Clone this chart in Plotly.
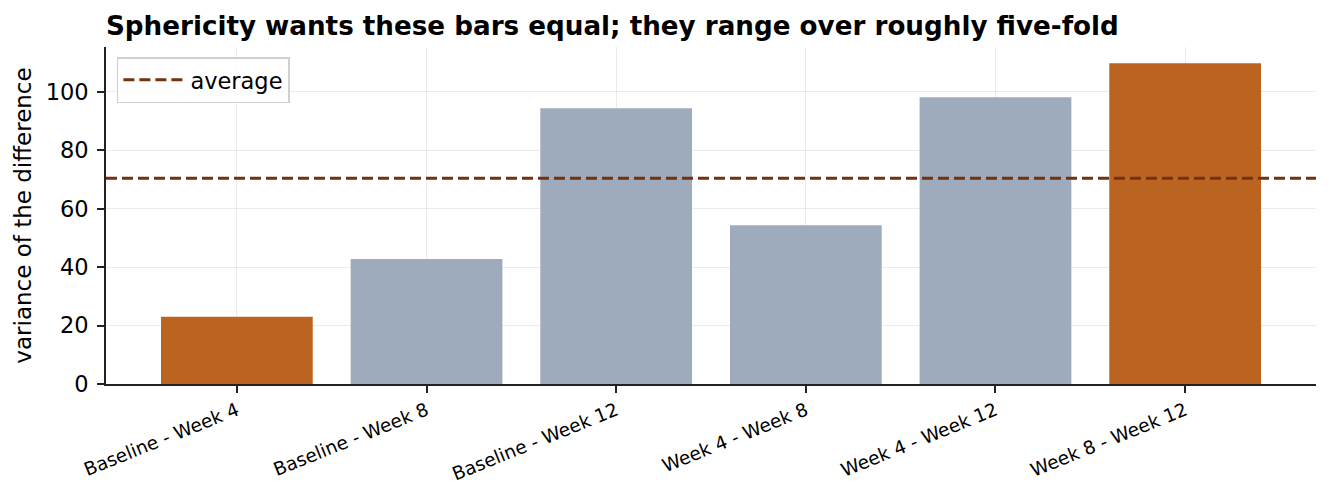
import plotly.graph_objects as go

# variance of each pairwise difference between time points
pairs = ["Baseline - Week 4", "Baseline - Week 8", "Baseline - Week 12",
         "Week 4 - Week 8", "Week 4 - Week 12", "Week 8 - Week 12"]
variances = [23.0, 42.8, 94.4, 54.4, 98.2, 109.8]

avg = sum(variances) / len(variances)

ORANGE = "#bb6421"
GREY_BLUE = "#9eabbd"
LINE = "#73320f"

# min and max get highlighted
lo, hi = min(variances), max(variances)
colors = [ORANGE if v in (lo, hi) else GREY_BLUE for v in variances]

fig = go.Figure()

fig.add_trace(go.Bar(
    x=list(range(len(pairs))), y=variances,
    marker=dict(color=colors, line=dict(width=0)),
    width=0.8, showlegend=False,
))

# legend entry for the average line
fig.add_trace(go.Scatter(
    x=[None], y=[None], mode="lines", name="average",
    line=dict(color=LINE, width=3, dash="11px,5px"),
))

fig.add_hline(y=avg, line=dict(color=LINE, width=3, dash="11px,5px"))

fig.update_layout(
    width=1330, height=490,
    margin=dict(l=106, r=14, t=47, b=106, autoexpand=False),
    paper_bgcolor="white", plot_bgcolor="white",
    font=dict(family="DejaVu Sans", color="black"),
    bargap=0.2,
    title=dict(
        text="<b>Sphericity wants these bars equal; they range over roughly five-fold</b>",
        x=0, xref="paper", xanchor="left",
        y=1 - 26 / 490, yref="container", yanchor="middle",
        font=dict(size=26.2, color="black"),
    ),
    legend=dict(
        x=0.009, y=0.97, xanchor="left", yanchor="top",
        bgcolor="rgba(255,255,255,0.8)", bordercolor="#d0d0d0", borderwidth=1.5,
        font=dict(size=22.5), itemwidth=62,
    ),
)

fig.update_xaxes(
    range=[-0.69, 5.69], automargin=False,
    tickmode="array", tickvals=list(range(len(pairs))), ticktext=pairs,
    tickangle=-22, tickfont=dict(size=18.5),
    ticks="outside", ticklen=7, tickwidth=1.8, tickcolor="#222",
    showline=True, linecolor="#222", linewidth=1.8,
    showgrid=True, gridcolor="rgba(170,170,170,0.24)", gridwidth=1.2,
    layer="above traces", zeroline=False,
)

fig.update_yaxes(
    range=[0, 115.4], automargin=False,
    tickvals=[0, 20, 40, 60, 80, 100], tickfont=dict(size=22.5),
    ticks="outside", ticklen=7, tickwidth=1.8, tickcolor="#222",
    ticklabelstandoff=4,
    showline=True, linecolor="#222", linewidth=1.8,
    showgrid=True, gridcolor="rgba(170,170,170,0.24)", gridwidth=1.2,
    layer="above traces", zeroline=False,
    title=dict(text="variance of the difference", font=dict(size=23), standoff=8),
)

# drop the browser's default body margin so the figure sits at 0,0
fig.write_html("out.html", config={"displayModeBar": False},
               post_script="document.body.style.margin = '0px';")
